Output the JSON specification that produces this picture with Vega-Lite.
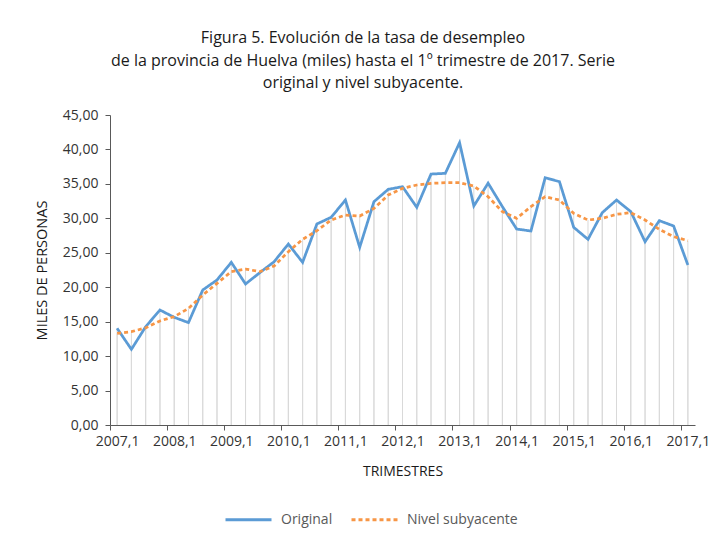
{
  "$schema": "https://vega.github.io/schema/vega-lite/v6.json",
  "width": 585,
  "height": 310,
  "autosize": {"type": "none"},
  "padding": {"left": 110, "top": 115, "right": 28, "bottom": 114},
  "background": "white",
  "config": {
    "view": {"stroke": null},
    "font": "Open Sans",
    "locale": {"number": {"decimal": ",", "thousands": ".", "grouping": [3], "currency": ["", " €"]}},
    "axis": {"domainColor": "#595959", "tickColor": "#595959", "labelColor": "#333333", "titleColor": "#1a1a1a", "labelFont": "Open Sans", "titleFont": "Open Sans", "grid": false}
  },
  "title": {
    "text": ["Figura 5. Evolución de la tasa de desempleo", "de la provincia de Huelva (miles) hasta el 1º trimestre de 2017. Serie", "original y nivel subyacente."],
    "anchor": "middle",
    "frame": "bounds",
    "fontSize": 16,
    "fontWeight": "normal",
    "font": "Open Sans",
    "color": "#1a1a1a",
    "lineHeight": 22.5,
    "offset": 17,
    "dx": -9
  },
  "data": {
    "values": [
      {"trimestre": "2007,1", "Original": 14.03, "Nivel subyacente": 13.3},
      {"trimestre": "2007,2", "Original": 10.98, "Nivel subyacente": 13.55},
      {"trimestre": "2007,3", "Original": 14.27, "Nivel subyacente": 14.1},
      {"trimestre": "2007,4", "Original": 16.69, "Nivel subyacente": 15.1},
      {"trimestre": "2008,1", "Original": 15.63, "Nivel subyacente": 15.73},
      {"trimestre": "2008,2", "Original": 14.86, "Nivel subyacente": 16.93},
      {"trimestre": "2008,3", "Original": 19.6, "Nivel subyacente": 18.87},
      {"trimestre": "2008,4", "Original": 21.05, "Nivel subyacente": 20.56},
      {"trimestre": "2009,1", "Original": 23.61, "Nivel subyacente": 22.26},
      {"trimestre": "2009,2", "Original": 20.47, "Nivel subyacente": 22.64},
      {"trimestre": "2009,3", "Original": 22.11, "Nivel subyacente": 22.26},
      {"trimestre": "2009,4", "Original": 23.7, "Nivel subyacente": 23.08},
      {"trimestre": "2010,1", "Original": 26.27, "Nivel subyacente": 25.16},
      {"trimestre": "2010,2", "Original": 23.61, "Nivel subyacente": 26.95},
      {"trimestre": "2010,3", "Original": 29.18, "Nivel subyacente": 28.2},
      {"trimestre": "2010,4", "Original": 30.15, "Nivel subyacente": 29.76},
      {"trimestre": "2011,1", "Original": 32.66, "Nivel subyacente": 30.48},
      {"trimestre": "2011,2", "Original": 25.79, "Nivel subyacente": 30.34},
      {"trimestre": "2011,3", "Original": 32.42, "Nivel subyacente": 31.45},
      {"trimestre": "2011,4", "Original": 34.21, "Nivel subyacente": 33.39},
      {"trimestre": "2012,1", "Original": 34.6, "Nivel subyacente": 34.35},
      {"trimestre": "2012,2", "Original": 31.6, "Nivel subyacente": 34.84},
      {"trimestre": "2012,3", "Original": 36.43, "Nivel subyacente": 35.08},
      {"trimestre": "2012,4", "Original": 36.53, "Nivel subyacente": 35.17},
      {"trimestre": "2013,1", "Original": 40.98, "Nivel subyacente": 35.17},
      {"trimestre": "2013,2", "Original": 31.79, "Nivel subyacente": 34.69},
      {"trimestre": "2013,3", "Original": 35.1, "Nivel subyacente": 33.14},
      {"trimestre": "2013,4", "Original": 31.7, "Nivel subyacente": 30.97},
      {"trimestre": "2014,1", "Original": 28.45, "Nivel subyacente": 30.0},
      {"trimestre": "2014,2", "Original": 28.16, "Nivel subyacente": 31.69},
      {"trimestre": "2014,3", "Original": 35.9, "Nivel subyacente": 33.14},
      {"trimestre": "2014,4", "Original": 35.32, "Nivel subyacente": 32.66},
      {"trimestre": "2015,1", "Original": 28.69, "Nivel subyacente": 30.72},
      {"trimestre": "2015,2", "Original": 26.95, "Nivel subyacente": 29.76},
      {"trimestre": "2015,3", "Original": 30.82, "Nivel subyacente": 30.0},
      {"trimestre": "2015,4", "Original": 32.66, "Nivel subyacente": 30.58},
      {"trimestre": "2016,1", "Original": 30.97, "Nivel subyacente": 30.82},
      {"trimestre": "2016,2", "Original": 26.61, "Nivel subyacente": 29.76},
      {"trimestre": "2016,3", "Original": 29.66, "Nivel subyacente": 28.4},
      {"trimestre": "2016,4", "Original": 28.89, "Nivel subyacente": 27.34},
      {"trimestre": "2017,1", "Original": 23.23, "Nivel subyacente": 26.76}
    ]
  },
  "transform": [{"fold": ["Original", "Nivel subyacente"], "as": ["serie", "valor"]}],
  "encoding": {
    "x": {
      "field": "trimestre",
      "type": "ordinal",
      "sort": null,
      "scale": {"type": "point", "padding": 0.5},
      "axis": {
        "title": "TRIMESTRES",
        "values": ["2007,1", "2008,1", "2009,1", "2010,1", "2011,1", "2012,1", "2013,1", "2014,1", "2015,1", "2016,1", "2017,1"],
        "labelAngle": 0,
        "labelOverlap": false,
        "tickSize": 5,
        "tickOffset": -7.13,
        "labelOffset": 7.13,
        "labelPadding": 4,
        "labelFontSize": 14,
        "titleFontSize": 14,
        "titleFontWeight": "normal",
        "titlePadding": 16
      }
    },
    "y": {
      "field": "valor",
      "type": "quantitative",
      "scale": {"domain": [0, 45], "nice": false},
      "axis": {
        "title": "MILES DE PERSONAS",
        "values": [0, 5, 10, 15, 20, 25, 30, 35, 40, 45],
        "format": ".2f",
        "labelOverlap": false,
        "tickSize": 5,
        "labelPadding": 7,
        "labelFontSize": 14,
        "titleFontSize": 14.5,
        "titleFontWeight": "normal",
        "titlePadding": 13
      }
    }
  },
  "layer": [
    {
      "mark": {"type": "rule", "color": "#d9d9d9", "strokeWidth": 1},
      "encoding": {
        "y2": {"datum": 0}
      }
    },
    {
      "mark": {"type": "line", "strokeWidth": 2.75, "strokeCap": "butt", "strokeJoin": "miter"},
      "encoding": {
        "color": {
          "field": "serie",
          "type": "nominal",
          "scale": {"domain": ["Original", "Nivel subyacente"], "range": ["#5b9bd5", "#f79646"]},
          "legend": {
            "title": null,
            "orient": "none",
            "direction": "horizontal",
            "legendX": 114,
            "legendY": 380,
            "symbolType": "stroke",
            "symbolSize": 2116,
            "symbolStrokeWidth": 3,
            "labelFontSize": 14,
            "labelColor": "#595959",
            "labelFont": "Open Sans",
            "labelOffset": 8,
            "columnPadding": 12
          }
        },
        "strokeDash": {
          "field": "serie",
          "type": "nominal",
          "scale": {"domain": ["Original", "Nivel subyacente"], "range": [[1, 0], [4, 3]]},
          "legend": {
            "title": null,
            "orient": "none",
            "direction": "horizontal",
            "legendX": 114,
            "legendY": 380,
            "symbolType": "stroke",
            "symbolSize": 2116,
            "symbolStrokeWidth": 3,
            "labelFontSize": 14,
            "labelColor": "#595959",
            "labelFont": "Open Sans",
            "labelOffset": 8,
            "columnPadding": 12
          }
        }
      }
    }
  ]
}
